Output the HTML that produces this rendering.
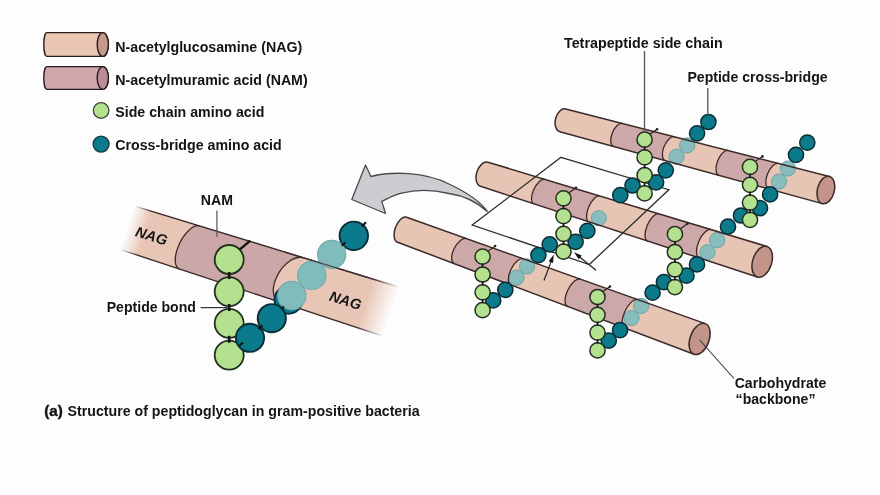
<!DOCTYPE html>
<html><head><meta charset="utf-8"><style>html,body{margin:0;padding:0;background:#fdfdfd;}svg{display:block;filter:blur(0.3px)}</style></head>
<body><svg width="880" height="495" viewBox="0 0 880 495">
<rect width="880" height="495" fill="#fdfdfd"/>
<path d="M46.8,32.6 L102.8,32.6 A5.6 11.9 0 0 1 102.8,56.4 L46.8,56.4 A3 11.9 0 0 1 46.8,32.6 Z" fill="#e9c7b3" stroke="#2a1c1c" stroke-width="1.4"/>
<ellipse cx="102.8" cy="44.5" rx="5.6" ry="11.9" fill="#c49a8c" stroke="#2a1c1c" stroke-width="1.4"/>
<path d="M46.8,66.6 L102.8,66.6 A5.6 11.4 0 0 1 102.8,89.4 L46.8,89.4 A3 11.4 0 0 1 46.8,66.6 Z" fill="#cfa7ab" stroke="#2a1c1c" stroke-width="1.4"/>
<ellipse cx="102.8" cy="78" rx="5.6" ry="11.4" fill="#b98e95" stroke="#2a1c1c" stroke-width="1.4"/>
<circle cx="101.1" cy="110.5" r="7.8" fill="#b4e190" stroke="#3a4a35" stroke-width="1.3"/>
<circle cx="101.1" cy="144.1" r="8" fill="#0b7a8b" stroke="#0f3a44" stroke-width="1.3"/>
<text x="115.3" y="51.9" style="font-family:'Liberation Sans',sans-serif;font-weight:bold;font-style:normal;font-size:14.2px" fill="#141414">N-acetylglucosamine (NAG)</text>
<text x="115.3" y="84.9" style="font-family:'Liberation Sans',sans-serif;font-weight:bold;font-style:normal;font-size:14.2px" fill="#141414">N-acetylmuramic acid (NAM)</text>
<text x="115.3" y="117.3" style="font-family:'Liberation Sans',sans-serif;font-weight:bold;font-style:normal;font-size:14.2px" fill="#141414">Side chain amino acid</text>
<text x="115.3" y="150.3" style="font-family:'Liberation Sans',sans-serif;font-weight:bold;font-style:normal;font-size:14.2px" fill="#141414">Cross-bridge amino acid</text>
<defs><linearGradient id="fadeB" gradientUnits="userSpaceOnUse" x1="0" y1="0" x2="304.3" y2="0">
<stop offset="0" stop-color="#fff" stop-opacity="0"/>
<stop offset="0.06" stop-color="#fff" stop-opacity="0"/>
<stop offset="0.12" stop-color="#fff" stop-opacity="1"/>
<stop offset="0.88" stop-color="#fff" stop-opacity="1"/>
<stop offset="0.97" stop-color="#fff" stop-opacity="0"/>
<stop offset="1" stop-color="#fff" stop-opacity="0"/>
</linearGradient><mask id="mB" maskUnits="userSpaceOnUse" x="-50" y="-60" width="400" height="120"><rect x="-50" y="-60" width="400" height="120" fill="url(#fadeB)"/></mask></defs>
<g transform="translate(110,221.9) rotate(17.64)"><g mask="url(#mB)">
<path d="M0,-22.35 L304.3,-25.6 L304.3,26.3 L0,23 Z" fill="#e7c6b5"/>
<path d="M86.6,-23.24 L195,-24.39 C186.72,-24.39 178.1,-13.32 175.75,0.34 C173.4,14 178.22,25.07 186.5,25.07 L80.8,23.91 C74.72,23.91 71.1,13.35 72.7,0.33 C74.3,-12.69 80.52,-23.24 86.6,-23.24 Z" fill="#cba7a7"/>
<path d="M86.6,-23.24 C80.52,-23.24 74.3,-12.69 72.7,0.33 C71.1,13.35 74.72,23.91 80.8,23.91" fill="none" stroke="#3b2a2a" stroke-width="1.3"/>
<path d="M195,-24.39 C186.72,-24.39 178.1,-13.32 175.75,0.34 C173.4,14 178.22,25.07 186.5,25.07" fill="none" stroke="#3b2a2a" stroke-width="1.3"/>
<path d="M0,-22.35 L304.3,-25.6 M0,23 L304.3,26.3" stroke="#3b2a2a" stroke-width="1.4"/>
</g></g>
<text x="134.5" y="236" transform="rotate(17 134.5 236)" style="font-family:'Liberation Sans',sans-serif;font-weight:bold;font-style:italic;font-size:14.6px" fill="#141414">NAG</text>
<text x="328.5" y="300.5" transform="rotate(17 328.5 300.5)" style="font-family:'Liberation Sans',sans-serif;font-weight:bold;font-style:italic;font-size:14.6px" fill="#141414">NAG</text>
<circle cx="229.2" cy="259.5" r="14.5" fill="#b4e190" stroke="#22301f" stroke-width="1.8"/>
<circle cx="229.2" cy="291.6" r="14.5" fill="#b4e190" stroke="#22301f" stroke-width="1.8"/>
<circle cx="229.2" cy="323.4" r="14.5" fill="#b4e190" stroke="#22301f" stroke-width="1.8"/>
<circle cx="229.2" cy="355.2" r="14.5" fill="#b4e190" stroke="#22301f" stroke-width="1.8"/>
<line x1="229.2" y1="272.05" x2="229.2" y2="279.05" stroke="#141414" stroke-width="2.6"/>
<line x1="229.2" y1="304" x2="229.2" y2="311" stroke="#141414" stroke-width="2.6"/>
<line x1="229.2" y1="335.8" x2="229.2" y2="342.8" stroke="#141414" stroke-width="2.6"/>
<line x1="239.6" y1="249.7" x2="250.3" y2="240.6" stroke="#111" stroke-width="2.3"/>
<circle cx="288.5" cy="299.8" r="14" fill="#0b7a8b" stroke="#0a2d36" stroke-width="1.8"/>
<circle cx="250" cy="337.8" r="14.1" fill="#0b7a8b" stroke="#0a2d36" stroke-width="1.9"/>
<circle cx="271.8" cy="318.2" r="14.1" fill="#0b7a8b" stroke="#0a2d36" stroke-width="1.9"/>
<circle cx="353.8" cy="235.8" r="14.2" fill="#0b7a8b" stroke="#0a2d36" stroke-width="1.9"/>
<circle cx="291.8" cy="295.5" r="14.1" fill="#81bcbd" stroke="#72acae" stroke-width="1.2"/>
<circle cx="311.8" cy="275.4" r="14.1" fill="#81bcbd" stroke="#72acae" stroke-width="1.2"/>
<circle cx="331.7" cy="254.4" r="14.1" fill="#81bcbd" stroke="#72acae" stroke-width="1.2"/>
<g transform="translate(110,221.9) rotate(17.64)"><path d="M175,-24.22 L262,-25.15" stroke="#3b2a2a" stroke-width="1.2" opacity="0.8"/></g>
<line x1="361.9" y1="226.2" x2="366" y2="222.2" stroke="#111" stroke-width="2"/>
<line x1="341.7" y1="245.7" x2="345.5" y2="242.5" stroke="#111" stroke-width="2"/>
<line x1="258.5" y1="329" x2="262.5" y2="325.5" stroke="#111" stroke-width="2"/>
<line x1="239.5" y1="345.5" x2="243" y2="342.5" stroke="#111" stroke-width="2"/>
<line x1="281.5" y1="309" x2="284" y2="306.5" stroke="#111" stroke-width="2"/>
<text x="200.8" y="205" style="font-family:'Liberation Sans',sans-serif;font-weight:bold;font-style:normal;font-size:14.1px" fill="#141414">NAM</text>
<line x1="216.9" y1="210.5" x2="216.9" y2="236.7" stroke="#555" stroke-width="1.2"/>
<text x="106.7" y="312.4" style="font-family:'Liberation Sans',sans-serif;font-weight:bold;font-style:normal;font-size:14.1px" fill="#141414">Peptide bond</text>
<line x1="200.6" y1="307.6" x2="227.5" y2="307.6" stroke="#333" stroke-width="1.2"/>
<text x="44.2" y="415.8" style="font-family:'Liberation Sans',sans-serif;font-weight:bold;font-style:normal;font-size:15.2px" fill="#141414" stroke="#141414" stroke-width="0.4">(a)</text>
<text x="67.6" y="415.6" style="font-family:'Liberation Sans',sans-serif;font-weight:bold;font-style:normal;font-size:14.1px" fill="#141414" textLength="352" lengthAdjust="spacingAndGlyphs">Structure of peptidoglycan in gram-positive bacteria</text>
<path d="M351.8,199.5 L365.5,165 L370.9,176.5 C392,171 425,172 449,184 C466,192 480,201 487.3,211.4 C478,203 466,196 449,193.5 C430,189 405,188 381.8,201.4 L385.5,213.5 Z" fill="#cdcdd1" stroke="#4a4a4a" stroke-width="1.3" stroke-linejoin="round"/>
<g transform="translate(562.5,121.5) rotate(14.47)">
<path d="M0,-12.9 L272.13,-13.5 A8.5 14.05 0 0 1 272.13,14.6 L0,10.5 A7.4 11.7 0 0 1 0,-12.9 Z" fill="#e7c5b4"/>
<path d="M58.3,-13.03 L112.3,-13.14 C108.71,-13.14 105.22,-7.48 104.5,-0.49 C103.78,6.51 106.11,12.17 109.7,12.17 L55.7,11.36 C52.39,11.36 50.28,5.9 51,-0.83 C51.72,-7.57 54.99,-13.03 58.3,-13.03 Z" fill="#cca8a8"/>
<path d="M167.8,-13.27 L219.8,-13.38 C215.93,-13.38 212.22,-7.3 211.5,0.21 C210.78,7.71 213.33,13.79 217.2,13.79 L165.2,13.01 C161.61,13.01 159.28,7.13 160,-0.13 C160.72,-7.39 164.21,-13.27 167.8,-13.27 Z" fill="#cca8a8"/>
</g>
<circle cx="687.2" cy="145.4" r="7.6" fill="#81bcbd" stroke="#6aa3a5" stroke-width="1.0" fill-opacity="0.93"/>
<circle cx="676.6" cy="156.7" r="7.6" fill="#81bcbd" stroke="#6aa3a5" stroke-width="1.0" fill-opacity="0.93"/>
<circle cx="787.9" cy="168.5" r="7.6" fill="#81bcbd" stroke="#6aa3a5" stroke-width="1.0" fill-opacity="0.93"/>
<circle cx="779" cy="181.5" r="7.6" fill="#81bcbd" stroke="#6aa3a5" stroke-width="1.0" fill-opacity="0.93"/>
<g transform="translate(562.5,121.5) rotate(14.47)">
<path d="M58.3,-13.03 C54.99,-13.03 51.72,-7.57 51,-0.83 C50.28,5.9 52.39,11.36 55.7,11.36" fill="none" stroke="#3b2a2a" stroke-width="1.3"/>
<path d="M112.3,-13.14 C108.71,-13.14 105.22,-7.48 104.5,-0.49 C103.78,6.51 106.11,12.17 109.7,12.17" fill="none" stroke="#3b2a2a" stroke-width="1.3"/>
<path d="M167.8,-13.27 C164.21,-13.27 160.72,-7.39 160,-0.13 C159.28,7.13 161.61,13.01 165.2,13.01" fill="none" stroke="#3b2a2a" stroke-width="1.3"/>
<path d="M219.8,-13.38 C215.93,-13.38 212.22,-7.3 211.5,0.21 C210.78,7.71 213.33,13.79 217.2,13.79" fill="none" stroke="#3b2a2a" stroke-width="1.3"/>
<path d="M0,-12.9 L272.13,-13.5 M0,10.5 L272.13,14.6 M0,10.5 A7.4 11.7 0 0 1 0,-12.9" fill="none" stroke="#3b2a2a" stroke-width="1.5" stroke-linecap="round"/>
<ellipse cx="272.13" cy="0.55" rx="8.5" ry="14.05" fill="#c3958a" stroke="#3b2a2a" stroke-width="1.5"/>
</g>
<g transform="translate(484,175) rotate(17.43)">
<path d="M0,-13.4 L291.39,-16.6 A9.5 16 0 0 1 291.39,15.4 L0,11.8 A7.7 12.6 0 0 1 0,-13.4 Z" fill="#e7c5b4"/>
<path d="M59.3,-14.03 L116.8,-14.67 C113.49,-14.67 110.22,-8.42 109.5,-0.72 C108.78,6.98 110.89,13.23 114.2,13.23 L56.3,12.51 C52.99,12.51 50.97,6.57 51.8,-0.76 C52.63,-8.09 55.99,-14.03 59.3,-14.03 Z" fill="#cca8a8"/>
<path d="M178.6,-15.35 L233.1,-15.95 C229.23,-15.95 225.52,-9.09 224.8,-0.64 C224.08,7.81 226.63,14.66 230.5,14.66 L176,13.99 C172.41,13.99 170.08,7.42 170.8,-0.68 C171.52,-8.78 175.01,-15.35 178.6,-15.35 Z" fill="#cca8a8"/>
</g>
<circle cx="598.8" cy="218.2" r="7.6" fill="#81bcbd" stroke="#6aa3a5" stroke-width="1.0" fill-opacity="0.93"/>
<circle cx="717.2" cy="240.2" r="7.6" fill="#81bcbd" stroke="#6aa3a5" stroke-width="1.0" fill-opacity="0.93"/>
<circle cx="707.5" cy="252.3" r="7.6" fill="#81bcbd" stroke="#6aa3a5" stroke-width="1.0" fill-opacity="0.93"/>
<g transform="translate(484,175) rotate(17.43)">
<path d="M59.3,-14.03 C55.99,-14.03 52.63,-8.09 51.8,-0.76 C50.97,6.57 52.99,12.51 56.3,12.51" fill="none" stroke="#3b2a2a" stroke-width="1.3"/>
<path d="M116.8,-14.67 C113.49,-14.67 110.22,-8.42 109.5,-0.72 C108.78,6.98 110.89,13.23 114.2,13.23" fill="none" stroke="#3b2a2a" stroke-width="1.3"/>
<path d="M178.6,-15.35 C175.01,-15.35 171.52,-8.78 170.8,-0.68 C170.08,7.42 172.41,13.99 176,13.99" fill="none" stroke="#3b2a2a" stroke-width="1.3"/>
<path d="M233.1,-15.95 C229.23,-15.95 225.52,-9.09 224.8,-0.64 C224.08,7.81 226.63,14.66 230.5,14.66" fill="none" stroke="#3b2a2a" stroke-width="1.3"/>
<path d="M0,-13.4 L291.39,-16.6 M0,11.8 L291.39,15.4 M0,11.8 A7.7 12.6 0 0 1 0,-13.4" fill="none" stroke="#3b2a2a" stroke-width="1.5" stroke-linecap="round"/>
<ellipse cx="291.39" cy="-0.6" rx="9.5" ry="16" fill="#c3958a" stroke="#3b2a2a" stroke-width="1.5"/>
</g>
<path d="M561,157.3 L668.8,189.7 L589.3,264.5 L472.2,225.1 Z" fill="none" stroke="#2a2a2a" stroke-width="1.3" stroke-linejoin="miter"/>
<circle cx="708.4" cy="122" r="7.6" fill="#0b7a8b" stroke="#0a2d36" stroke-width="1.5"/>
<circle cx="697.1" cy="133.3" r="7.6" fill="#0b7a8b" stroke="#0a2d36" stroke-width="1.5"/>
<circle cx="665.8" cy="170.3" r="7.6" fill="#0b7a8b" stroke="#0a2d36" stroke-width="1.5"/>
<circle cx="656.1" cy="182.4" r="7.6" fill="#0b7a8b" stroke="#0a2d36" stroke-width="1.5"/>
<circle cx="632.5" cy="185.5" r="7.6" fill="#0b7a8b" stroke="#0a2d36" stroke-width="1.5"/>
<circle cx="620.3" cy="195.2" r="7.6" fill="#0b7a8b" stroke="#0a2d36" stroke-width="1.5"/>
<circle cx="644.6" cy="139.7" r="7.6" fill="#b4e190" stroke="#22301f" stroke-width="1.5"/>
<circle cx="644.6" cy="157.4" r="7.6" fill="#b4e190" stroke="#22301f" stroke-width="1.5"/>
<circle cx="644.6" cy="175.2" r="7.6" fill="#b4e190" stroke="#22301f" stroke-width="1.5"/>
<circle cx="644.6" cy="193.4" r="7.6" fill="#b4e190" stroke="#22301f" stroke-width="1.5"/>
<line x1="644.6" y1="146.55" x2="644.6" y2="150.55" stroke="#141414" stroke-width="1.7"/>
<line x1="644.6" y1="164.3" x2="644.6" y2="168.3" stroke="#141414" stroke-width="1.7"/>
<line x1="644.6" y1="182.3" x2="644.6" y2="186.3" stroke="#141414" stroke-width="1.7"/>
<circle cx="807.3" cy="142.6" r="7.6" fill="#0b7a8b" stroke="#0a2d36" stroke-width="1.5"/>
<circle cx="796" cy="154.8" r="7.6" fill="#0b7a8b" stroke="#0a2d36" stroke-width="1.5"/>
<circle cx="770.1" cy="194.4" r="7.6" fill="#0b7a8b" stroke="#0a2d36" stroke-width="1.5"/>
<circle cx="760" cy="208.2" r="7.6" fill="#0b7a8b" stroke="#0a2d36" stroke-width="1.5"/>
<circle cx="741" cy="215.5" r="7.6" fill="#0b7a8b" stroke="#0a2d36" stroke-width="1.5"/>
<circle cx="728" cy="226.7" r="7.6" fill="#0b7a8b" stroke="#0a2d36" stroke-width="1.5"/>
<circle cx="750" cy="166.9" r="7.6" fill="#b4e190" stroke="#22301f" stroke-width="1.5"/>
<circle cx="750" cy="184.8" r="7.6" fill="#b4e190" stroke="#22301f" stroke-width="1.5"/>
<circle cx="750" cy="202.6" r="7.6" fill="#b4e190" stroke="#22301f" stroke-width="1.5"/>
<circle cx="750" cy="219.8" r="7.6" fill="#b4e190" stroke="#22301f" stroke-width="1.5"/>
<line x1="750" y1="173.85" x2="750" y2="177.85" stroke="#141414" stroke-width="1.7"/>
<line x1="750" y1="191.7" x2="750" y2="195.7" stroke="#141414" stroke-width="1.7"/>
<line x1="750" y1="209.2" x2="750" y2="213.2" stroke="#141414" stroke-width="1.7"/>
<circle cx="587.3" cy="230.9" r="7.6" fill="#0b7a8b" stroke="#0a2d36" stroke-width="1.5"/>
<circle cx="575.6" cy="241.8" r="7.6" fill="#0b7a8b" stroke="#0a2d36" stroke-width="1.5"/>
<circle cx="549.7" cy="244.3" r="7.6" fill="#0b7a8b" stroke="#0a2d36" stroke-width="1.5"/>
<circle cx="538.4" cy="255.1" r="7.6" fill="#0b7a8b" stroke="#0a2d36" stroke-width="1.5"/>
<circle cx="563.5" cy="198.3" r="7.6" fill="#b4e190" stroke="#22301f" stroke-width="1.5"/>
<circle cx="563.5" cy="216.2" r="7.6" fill="#b4e190" stroke="#22301f" stroke-width="1.5"/>
<circle cx="563.5" cy="233.8" r="7.6" fill="#b4e190" stroke="#22301f" stroke-width="1.5"/>
<circle cx="563.5" cy="251.6" r="7.6" fill="#b4e190" stroke="#22301f" stroke-width="1.5"/>
<line x1="563.5" y1="205.25" x2="563.5" y2="209.25" stroke="#141414" stroke-width="1.7"/>
<line x1="563.5" y1="223" x2="563.5" y2="227" stroke="#141414" stroke-width="1.7"/>
<line x1="563.5" y1="240.7" x2="563.5" y2="244.7" stroke="#141414" stroke-width="1.7"/>
<circle cx="697" cy="264.4" r="7.6" fill="#0b7a8b" stroke="#0a2d36" stroke-width="1.5"/>
<circle cx="686.5" cy="275.7" r="7.6" fill="#0b7a8b" stroke="#0a2d36" stroke-width="1.5"/>
<circle cx="663.9" cy="282.2" r="7.6" fill="#0b7a8b" stroke="#0a2d36" stroke-width="1.5"/>
<circle cx="652.6" cy="292.7" r="7.6" fill="#0b7a8b" stroke="#0a2d36" stroke-width="1.5"/>
<circle cx="674.9" cy="234.2" r="7.6" fill="#b4e190" stroke="#22301f" stroke-width="1.5"/>
<circle cx="674.9" cy="252" r="7.6" fill="#b4e190" stroke="#22301f" stroke-width="1.5"/>
<circle cx="674.9" cy="269.5" r="7.6" fill="#b4e190" stroke="#22301f" stroke-width="1.5"/>
<circle cx="674.9" cy="287.2" r="7.6" fill="#b4e190" stroke="#22301f" stroke-width="1.5"/>
<line x1="674.9" y1="241.1" x2="674.9" y2="245.1" stroke="#141414" stroke-width="1.7"/>
<line x1="674.9" y1="258.75" x2="674.9" y2="262.75" stroke="#141414" stroke-width="1.7"/>
<line x1="674.9" y1="276.35" x2="674.9" y2="280.35" stroke="#141414" stroke-width="1.7"/>
<g transform="translate(402,230) rotate(20.12)">
<path d="M0,-13.5 L316.93,-16.4 A9.5 16.3 0 0 1 316.93,16.2 L0,13 A7 13.25 0 0 1 0,-13.5 Z" fill="#e7c5b4"/>
<path d="M63.6,-14.07 L124.1,-14.62 C120.23,-14.62 116.52,-8.16 115.8,-0.19 C115.08,7.78 117.63,14.24 121.5,14.24 L61,13.63 C57.13,13.63 54.58,7.43 55.3,-0.22 C56.02,-7.87 59.73,-14.07 63.6,-14.07 Z" fill="#cca8a8"/>
<path d="M184.6,-15.18 L245.1,-15.73 C241.51,-15.73 238.02,-8.75 237.3,-0.13 C236.58,8.48 238.91,15.46 242.5,15.46 L182,14.85 C178.13,14.85 175.58,8.13 176.3,-0.16 C177.02,-8.46 180.73,-15.18 184.6,-15.18 Z" fill="#cca8a8"/>
</g>
<circle cx="527.1" cy="266.4" r="7.6" fill="#81bcbd" stroke="#6aa3a5" stroke-width="1.0" fill-opacity="0.93"/>
<circle cx="516.6" cy="277.7" r="7.6" fill="#81bcbd" stroke="#6aa3a5" stroke-width="1.0" fill-opacity="0.93"/>
<circle cx="641.2" cy="305.9" r="7.6" fill="#81bcbd" stroke="#6aa3a5" stroke-width="1.0" fill-opacity="0.93"/>
<circle cx="631.5" cy="318" r="7.6" fill="#81bcbd" stroke="#6aa3a5" stroke-width="1.0" fill-opacity="0.93"/>
<g transform="translate(402,230) rotate(20.12)">
<path d="M63.6,-14.07 C59.73,-14.07 56.02,-7.87 55.3,-0.22 C54.58,7.43 57.13,13.63 61,13.63" fill="none" stroke="#3b2a2a" stroke-width="1.3"/>
<path d="M124.1,-14.62 C120.23,-14.62 116.52,-8.16 115.8,-0.19 C115.08,7.78 117.63,14.24 121.5,14.24" fill="none" stroke="#3b2a2a" stroke-width="1.3"/>
<path d="M184.6,-15.18 C180.73,-15.18 177.02,-8.46 176.3,-0.16 C175.58,8.13 178.13,14.85 182,14.85" fill="none" stroke="#3b2a2a" stroke-width="1.3"/>
<path d="M245.1,-15.73 C241.51,-15.73 238.02,-8.75 237.3,-0.13 C236.58,8.48 238.91,15.46 242.5,15.46" fill="none" stroke="#3b2a2a" stroke-width="1.3"/>
<path d="M0,-13.5 L316.93,-16.4 M0,13 L316.93,16.2 M0,13 A7 13.25 0 0 1 0,-13.5" fill="none" stroke="#3b2a2a" stroke-width="1.5" stroke-linecap="round"/>
<ellipse cx="316.93" cy="-0.1" rx="9.5" ry="16.3" fill="#c3958a" stroke="#3b2a2a" stroke-width="1.5"/>
</g>
<circle cx="505.3" cy="289.8" r="7.6" fill="#0b7a8b" stroke="#0a2d36" stroke-width="1.5"/>
<circle cx="493.2" cy="300.4" r="7.6" fill="#0b7a8b" stroke="#0a2d36" stroke-width="1.5"/>
<circle cx="482.6" cy="256.6" r="7.6" fill="#b4e190" stroke="#22301f" stroke-width="1.5"/>
<circle cx="482.6" cy="274.5" r="7.6" fill="#b4e190" stroke="#22301f" stroke-width="1.5"/>
<circle cx="482.6" cy="292.3" r="7.6" fill="#b4e190" stroke="#22301f" stroke-width="1.5"/>
<circle cx="482.6" cy="310.2" r="7.6" fill="#b4e190" stroke="#22301f" stroke-width="1.5"/>
<line x1="482.6" y1="263.55" x2="482.6" y2="267.55" stroke="#141414" stroke-width="1.7"/>
<line x1="482.6" y1="281.4" x2="482.6" y2="285.4" stroke="#141414" stroke-width="1.7"/>
<line x1="482.6" y1="299.25" x2="482.6" y2="303.25" stroke="#141414" stroke-width="1.7"/>
<circle cx="620.1" cy="330.1" r="7.6" fill="#0b7a8b" stroke="#0a2d36" stroke-width="1.5"/>
<circle cx="608.8" cy="340.6" r="7.6" fill="#0b7a8b" stroke="#0a2d36" stroke-width="1.5"/>
<circle cx="597.5" cy="297" r="7.6" fill="#b4e190" stroke="#22301f" stroke-width="1.5"/>
<circle cx="597.5" cy="314.8" r="7.6" fill="#b4e190" stroke="#22301f" stroke-width="1.5"/>
<circle cx="597.5" cy="332.6" r="7.6" fill="#b4e190" stroke="#22301f" stroke-width="1.5"/>
<circle cx="597.5" cy="350.4" r="7.6" fill="#b4e190" stroke="#22301f" stroke-width="1.5"/>
<line x1="597.5" y1="303.9" x2="597.5" y2="307.9" stroke="#141414" stroke-width="1.7"/>
<line x1="597.5" y1="321.7" x2="597.5" y2="325.7" stroke="#141414" stroke-width="1.7"/>
<line x1="597.5" y1="339.5" x2="597.5" y2="343.5" stroke="#141414" stroke-width="1.7"/>
<line x1="650.1" y1="134.2" x2="657.1" y2="129.2" stroke="#2a1a1a" stroke-width="1.1"/>
<circle cx="657.1" cy="129.2" r="1.3" fill="#222"/>
<line x1="755.5" y1="161.4" x2="762.5" y2="156.4" stroke="#2a1a1a" stroke-width="1.1"/>
<circle cx="762.5" cy="156.4" r="1.3" fill="#222"/>
<line x1="569" y1="192.8" x2="576" y2="187.8" stroke="#2a1a1a" stroke-width="1.1"/>
<circle cx="576" cy="187.8" r="1.3" fill="#222"/>
<line x1="680.4" y1="228.7" x2="687.4" y2="223.7" stroke="#2a1a1a" stroke-width="1.1"/>
<circle cx="687.4" cy="223.7" r="1.3" fill="#222"/>
<line x1="488.1" y1="251.1" x2="495.1" y2="246.1" stroke="#2a1a1a" stroke-width="1.1"/>
<circle cx="495.1" cy="246.1" r="1.3" fill="#222"/>
<line x1="603" y1="291.5" x2="610" y2="286.5" stroke="#2a1a1a" stroke-width="1.1"/>
<circle cx="610" cy="286.5" r="1.3" fill="#222"/>
<line x1="544" y1="280.5" x2="551.24" y2="261.16" stroke="#222" stroke-width="1.2"/>
<path d="M553.7,254.6 L553.05,262.9 L548.74,261.29 Z" fill="#111"/>
<line x1="596" y1="270.3" x2="579.42" y2="256.73" stroke="#222" stroke-width="1.2"/>
<path d="M574,252.3 L581.65,255.59 L578.74,259.15 Z" fill="#111"/>
<text x="564" y="47.6" style="font-family:'Liberation Sans',sans-serif;font-weight:bold;font-style:normal;font-size:14.3px" fill="#141414">Tetrapeptide side chain</text>
<line x1="644.5" y1="51" x2="644.5" y2="132" stroke="#555" stroke-width="1.3"/>
<text x="687.4" y="82.4" style="font-family:'Liberation Sans',sans-serif;font-weight:bold;font-style:normal;font-size:14.1px" fill="#141414">Peptide cross-bridge</text>
<line x1="707.8" y1="88" x2="707.8" y2="115" stroke="#555" stroke-width="1.3"/>
<text x="734.7" y="387.5" style="font-family:'Liberation Sans',sans-serif;font-weight:bold;font-style:normal;font-size:14.1px" fill="#141414">Carbohydrate</text>
<text x="735.6" y="404.3" style="font-family:'Liberation Sans',sans-serif;font-weight:bold;font-style:normal;font-size:14.1px" fill="#141414">“backbone”</text>
<line x1="699.6" y1="340" x2="734" y2="378.5" stroke="#333" stroke-width="1.05"/>
</svg></body></html>
